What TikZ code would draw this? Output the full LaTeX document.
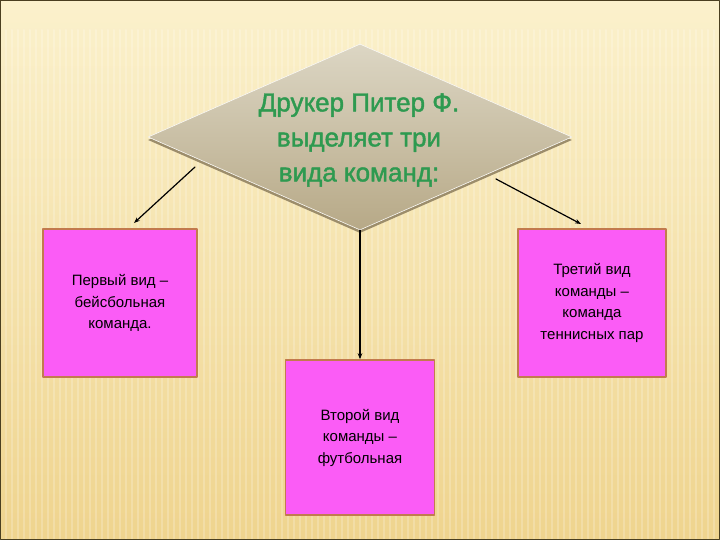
\documentclass[tikz,border=0pt]{standalone}
\usepackage{fontspec}
\setmainfont{Liberation Sans}
\newfontfamily\zagfont[FakeBold=1.6]{Liberation Sans}
\usetikzlibrary{shapes.geometric,arrows.meta}
\definecolor{fonTop}{HTML}{FBF1CC}
\definecolor{fonMid}{HTML}{F8E8B6}
\definecolor{fonBot}{HTML}{EFD48E}
\definecolor{ramka}{HTML}{4A3F20}
\definecolor{romb1}{HTML}{DCD6C4}
\definecolor{romb2}{HTML}{B7A987}
\definecolor{ten}{HTML}{9C8D6B}
\definecolor{zel}{HTML}{2E9A50}
\definecolor{pink}{HTML}{FB5CF6}
\definecolor{kant}{HTML}{C27A4E}
\tikzset{
	kite/.style={diamond,inner sep=0pt,minimum width=424pt,minimum height=186pt},
	vid/.style={draw=kant,line width=1.5pt,fill=pink,text=black,align=center,font=\fontsize{15}{21.5}\selectfont},
	strel/.style={-{Stealth[length=6pt,width=4.5pt]},line width=1.2pt,black}
}
\begin{document}
\begin{tikzpicture}[x=1pt,y=-1pt,line join=round,line cap=round]
	\useasboundingbox (0,0) rectangle (720,540);
	% fon
	\shade[top color=fonTop,middle color=fonMid,bottom color=fonBot] (0,0) rectangle (720,540);
	\foreach \i in {0,6,...,720}
		\draw[white,opacity=.2,line width=2pt] (\i,30)--(\i,540);
	\draw[ramka,line width=1.2pt] (0.6,0.6) rectangle (719.4,539.4);
	
	% romb
	\node[kite,fill=ten] at (360,140) {};
	\node[kite,top color=romb1,bottom color=romb2,draw=white!85!romb1,line width=.6pt] (dk) at (360,137) {};
	\node[text=zel,align=center,font=\zagfont\fontsize{26}{35}\selectfont] (zag) at (359,140) {Друкер Питер Ф.\\выделяет три\\вида команд:};
	
	% tri vida
	\node[vid,minimum width=154pt,minimum height=148pt] (lb) at (120,303) {Первый вид –\\бейсбольная\\команда.};
	\node[vid,minimum width=149pt,minimum height=155pt] (mb) at (360,437.5) {Второй вид\\команды –\\футбольная};
	\node[vid,minimum width=148pt,minimum height=148pt] (rb) at (592,303) {Третий вид\\команды –\\команда\\теннисных пар};
	
	\coordinate (la) at (195,167);
	\coordinate (lz) at (134,223);
	\coordinate (ra) at (496,179);
	\coordinate (rz) at (581,224);
	\draw[strel] (la)--(lz);
	\draw[strel] (dk.south)--(mb.north);
	\draw[strel] (ra)--(rz);
\end{tikzpicture}
\end{document}
